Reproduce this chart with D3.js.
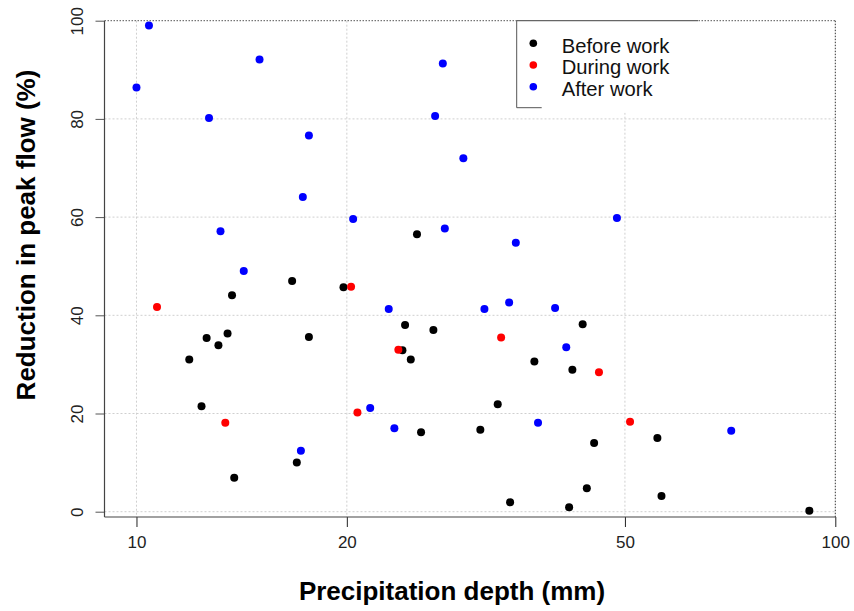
<!DOCTYPE html>
<html lang="en">

<head>
  <title></title>
  <meta charset="UTF-8">
  <script src="https://cdn.jsdelivr.net/npm/d3@7"></script>
  <style>
    body { margin: 0; background: #fff; }
    text { font-family: "Liberation Sans", Arial, sans-serif; }
  </style>
</head>

<body>
  <svg id="chart" width="854" height="611"></svg>
  <script>
    // values: precipitation depth (mm), reduction (%)
    var beforeX = [11.9, 12.6, 13.1, 13.5, 13.7, 12.39, 13.8, 16.96, 16.7, 19.78, 25.2, 17.65, 24.23, 24.02, 24.69,
      26.6, 32.88, 31.05, 25.54, 37.1, 34.25, 41.6, 43.5, 42.05, 45.17, 44.1, 55.64, 56.4, 91.8];
    var beforeY = [31.0, 35.4, 33.9, 36.3, 44.1, 21.5, 6.9, 10.0, 47.0, 45.7, 56.5, 35.6, 38.0, 32.9, 31.0,
      37.0, 21.9, 16.7, 16.2, 30.6, 1.9, 0.9, 38.2, 28.9, 14.0, 4.8, 15.0, 3.2, 0.2];
    var duringX = [10.7, 13.4, 20.28, 23.7, 20.71, 33.25, 45.9, 50.85];
    var duringY = [41.7, 18.1, 45.8, 33.0, 20.2, 35.5, 28.4, 18.3];
    var afterX = [10.0, 10.42, 15.0, 12.7, 13.19, 14.24, 17.65, 17.3, 20.42, 27.44, 26.75, 29.36, 27.62, 34.9, 48.7,
      22.96, 31.47, 34.14, 39.72, 41.21, 21.6, 23.39, 37.55, 17.19, 70.97];
    var afterY = [86.4, 99.0, 92.1, 80.2, 57.1, 49.0, 76.6, 64.1, 59.6, 91.3, 80.6, 72.0, 57.7, 54.8, 59.8,
      41.3, 41.3, 42.6, 41.5, 33.5, 21.1, 17.0, 18.1, 12.4, 16.5];

    var seriesNames = ["Before work", "During work", "After work"];
    var seriesColors = ["#000000", "#ff0000", "#0000ff"];
    var xTicks = [10, 20, 50, 100];
    var yTicks = [0, 20, 40, 60, 80, 100];

    var svg = d3.select('#chart');

    var x = d3.scaleLog().domain([9, 100]).range([104.5, 835.3]);
    var y = d3.scaleLinear().domain([0, 100]).range([511.7, 20.7]);
    var axisBottomY = 517;

    // grid
    var grid = svg.append('g');
    grid.selectAll('line.gx')
      .data(xTicks.filter(function (d) { return d < 100; }))
      .enter().append('line')
      .attr('x1', function (d) { return x(d); })
      .attr('x2', function (d) { return x(d); })
      .attr('y1', y(100))
      .attr('y2', axisBottomY)
      .attr('stroke', '#cfcfcf')
      .attr('stroke-dasharray', '2,2');
    grid.selectAll('line.gy')
      .data(yTicks.filter(function (d) { return d < 100; }))
      .enter().append('line')
      .attr('x1', x.range()[0])
      .attr('x2', x.range()[1])
      .attr('y1', function (d) { return y(d); })
      .attr('y2', function (d) { return y(d); })
      .attr('stroke', '#cfcfcf')
      .attr('stroke-dasharray', '2,2');

    // dotted top / right frame
    grid.append('line')
      .attr('x1', x.range()[0]).attr('x2', x.range()[1])
      .attr('y1', y(100)).attr('y2', y(100))
      .attr('stroke', '#555').attr('stroke-dasharray', '1.5,1.5');
    grid.append('line')
      .attr('x1', x(100)).attr('x2', x(100))
      .attr('y1', y(100)).attr('y2', axisBottomY)
      .attr('stroke', '#333').attr('stroke-dasharray', '1.5,1.5');

    // points
    var sets = [
      { x: beforeX, y: beforeY },
      { x: duringX, y: duringY },
      { x: afterX, y: afterY }
    ];
    sets.forEach(function (s, i) {
      svg.append('g').selectAll('circle')
        .data(s.x.map(function (v, j) { return [v, s.y[j]]; }))
        .enter().append('circle')
        .attr('cx', function (d) { return x(d[0]); })
        .attr('cy', function (d) { return y(d[1]); })
        .attr('r', 4)
        .attr('fill', seriesColors[i]);
    });

    // axes
    var xAxis = d3.axisBottom(x).tickValues(xTicks).tickFormat(d3.format('d')).tickSize(10).tickPadding(9);
    var gx = svg.append('g').attr('transform', 'translate(0,' + axisBottomY + ')').call(xAxis);
    gx.select('.domain').remove();
    gx.selectAll('line').attr('stroke', '#222');
    gx.selectAll('text').attr('font-size', 17).attr('fill', '#222')
      .style('font-family', '"Liberation Sans", Arial, sans-serif');

    var yAxis = d3.axisLeft(y).tickValues(yTicks).tickSize(9);
    var gy = svg.append('g').attr('transform', 'translate(' + x.range()[0] + ',0)').call(yAxis);
    gy.select('.domain').remove();
    gy.selectAll('line').attr('stroke', '#555');
    gy.selectAll('text')
      .attr('font-size', 17).attr('fill', '#222')
      .style('font-family', '"Liberation Sans", Arial, sans-serif')
      .attr('x', 0).attr('dy', null)
      .attr('text-anchor', 'middle')
      .attr('transform', 'translate(-22,0) rotate(-90)');

    svg.append('line')
      .attr('x1', x.range()[0]).attr('x2', x.range()[1])
      .attr('y1', axisBottomY).attr('y2', axisBottomY)
      .attr('stroke', '#444').attr('stroke-width', 1.2);
    svg.append('line')
      .attr('x1', x.range()[0]).attr('x2', x.range()[0])
      .attr('y1', y(100)).attr('y2', axisBottomY)
      .attr('stroke', '#444').attr('stroke-width', 1.2);

    // titles
    svg.append('text')
      .attr('x', 452).attr('y', 600)
      .attr('text-anchor', 'middle')
      .attr('font-size', 26).attr('font-weight', 'bold')
      .text('Precipitation depth (mm)');
    svg.append('text')
      .attr('transform', 'translate(35,235) rotate(-90)')
      .attr('text-anchor', 'middle')
      .attr('font-size', 26).attr('font-weight', 'bold')
      .text('Reduction in peak flow (%)');

    // legend
    var lg = svg.append('g');
    lg.append('rect')
      .attr('x', 516.7).attr('y', y(100))
      .attr('width', 181.3).attr('height', 92)
      .attr('fill', '#fff');
    lg.append('line').attr('x1', 516.7).attr('x2', 516.7).attr('y1', y(100)).attr('y2', 107.7)
      .attr('stroke', '#555');
    lg.append('line').attr('x1', 516.7).attr('x2', 698).attr('y1', y(100)).attr('y2', y(100))
      .attr('stroke', '#666').attr('stroke-width', 1.2);
    lg.append('line').attr('x1', 516.7).attr('x2', 541.7).attr('y1', 107.7).attr('y2', 107.7)
      .attr('stroke', '#555');
    var items = lg.selectAll('g.item')
      .data(seriesNames)
      .enter().append('g')
      .attr('transform', function (d, i) { return 'translate(533.3,' + (43.3 + i * 21.7) + ')'; });
    items.append('circle').attr('r', 3.8).attr('fill', function (d, i) { return seriesColors[i]; });
    items.append('text')
      .attr('x', 28.4).attr('y', 9.4)
      .attr('font-size', 20.2).attr('fill', '#111')
      .text(function (d) { return d; });
  </script>
</body>

</html>
